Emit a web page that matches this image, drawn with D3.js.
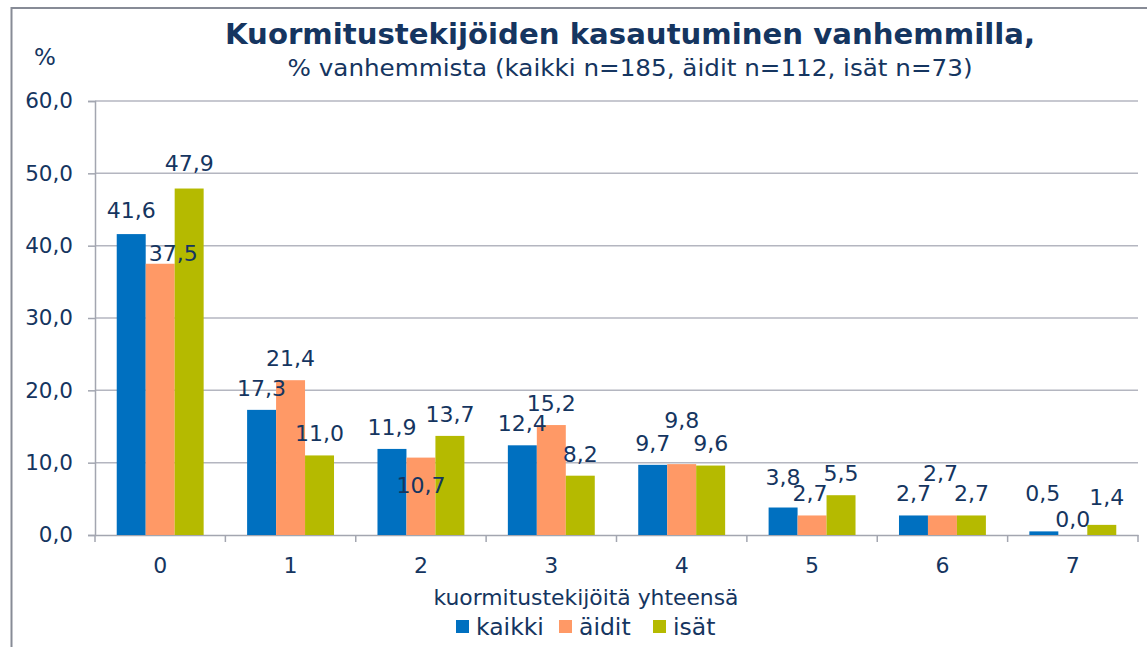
<!DOCTYPE html>
<html>
<head>
<meta charset="utf-8">
<script src="https://cdn.jsdelivr.net/npm/d3@7"></script>
<style>
  body { margin: 0; background: #fff; }
  text { font-family: "DejaVu Sans", Verdana, sans-serif; fill: #153560; }
</style>
</head>
<body>
<div id="wrapper"></div>
<script>
// chart values
const categories = ["0", "1", "2", "3", "4", "5", "6", "7"];
const seriesNames = ["kaikki", "äidit", "isät"];
const kaikki = [41.6, 17.3, 11.9, 12.4, 9.7, 3.8, 2.7, 0.5];
const aidit = [37.5, 21.4, 10.7, 15.2, 9.8, 2.7, 2.7, 0.0];
const isat = [47.9, 11.0, 13.7, 8.2, 9.6, 5.5, 2.7, 1.4];
const yTicks = [0, 10, 20, 30, 40, 50, 60];
const colors = ["#0070c0", "#ff9966", "#b5ba00"];

// hand-placed label nudges as in the original [dx, dy], by category then series
const labelNudge = [
  [[0, -2], [13, 11], [0, -3]],
  [[0, 0], [0, 0], [0, 0]],
  [[0, 0], [0, 49], [0, 0]],
  [[0, 0], [0, 0], [0, 0]],
  [[0, 0], [0, -22], [0, 0]],
  [[0, -8], [-2, 0], [0, 0]],
  [[0, 0], [-2, -20], [0, 0]],
  [[-1, -16], [0, 6], [5, -6]]
];

const allSeries = [kaikki, aidit, isat];
const data = categories.map((c, i) => ({
  cat: c,
  vals: seriesNames.map((s, j) => ({ name: s, value: allSeries[j][i], ci: i, si: j }))
}));

const dims = {
  width: 1147,
  height: 647,
  margin: { top: 101, left: 95, right: 9, bottom: 112 }
};
dims.boundedWidth = dims.width - dims.margin.left - dims.margin.right;
dims.boundedHeight = dims.height - dims.margin.top - dims.margin.bottom;

const svg = d3.select("#wrapper").append("svg")
  .attr("width", dims.width)
  .attr("height", dims.height);

// outer chart frame
svg.append("rect")
  .attr("x", 11.5).attr("y", 8)
  .attr("width", 1160).attr("height", 660)
  .attr("fill", "none")
  .attr("stroke", "#878b96")
  .attr("stroke-width", 2);

const fmt = v => d3.format(".1f")(v).replace(".", ",");

const yScale = d3.scaleLinear()
  .domain([0, 60])
  .range([dims.boundedHeight, 0]);

const x0 = d3.scaleBand()
  .domain(categories)
  .range([0, dims.boundedWidth])
  .paddingInner(0);

const x1 = d3.scaleBand()
  .domain(seriesNames)
  .range([0, x0.bandwidth()])
  .paddingInner(0)
  .paddingOuter(0.75);

const g = svg.append("g")
  .attr("transform", `translate(${dims.margin.left},${dims.margin.top})`);

// gridlines
g.append("g").selectAll("line")
  .data(yTicks.filter(t => t > 0))
  .join("line")
  .attr("x1", 0).attr("x2", dims.boundedWidth)
  .attr("y1", d => yScale(d)).attr("y2", d => yScale(d))
  .attr("stroke", "#b4b6c0")
  .attr("stroke-width", 1.5);

// y axis
const yAxis = g.append("g")
  .call(d3.axisLeft(yScale).tickValues(yTicks).tickSize(7).tickPadding(15).tickFormat(fmt));
yAxis.select(".domain").attr("stroke", "#a3a6b0").attr("stroke-width", 1.5);
yAxis.selectAll(".tick line").attr("stroke", "#a3a6b0").attr("stroke-width", 1.5);
yAxis.selectAll(".tick text")
  .style("font-family", "DejaVu Sans, Verdana, sans-serif")
  .style("font-size", "21.5px")
  .attr("fill", "#153560");

// x axis
const xAxis = g.append("g")
  .attr("transform", `translate(0,${dims.boundedHeight})`)
  .call(d3.axisBottom(x0).tickSize(0).tickPadding(22));
xAxis.select(".domain").attr("stroke", "#a3a6b0").attr("stroke-width", 1.5);
xAxis.selectAll(".tick text")
  .style("font-family", "DejaVu Sans, Verdana, sans-serif")
  .style("font-size", "22px")
  .attr("fill", "#153560");
// category boundary ticks
xAxis.append("g").selectAll("line")
  .data(d3.range(categories.length + 1))
  .join("line")
  .attr("x1", d => d * x0.step()).attr("x2", d => d * x0.step())
  .attr("y1", 0).attr("y2", 7)
  .attr("stroke", "#a3a6b0")
  .attr("stroke-width", 1.5);

// bars
const groups = g.append("g").selectAll("g")
  .data(data)
  .join("g")
  .attr("transform", d => `translate(${x0(d.cat)},0)`);

groups.selectAll("rect")
  .data(d => d.vals)
  .join("rect")
  .attr("x", d => x1(d.name))
  .attr("y", d => yScale(d.value))
  .attr("width", x1.bandwidth())
  .attr("height", d => yScale(0) - yScale(d.value))
  .attr("fill", (d, i) => colors[i]);

// value labels
groups.selectAll("text.val")
  .data(d => d.vals)
  .join("text")
  .attr("class", "val")
  .attr("x", d => x1(d.name) + x1.bandwidth() / 2 + labelNudge[d.ci][d.si][0])
  .attr("y", d => yScale(d.value) - 22 + labelNudge[d.ci][d.si][1])
  .attr("dy", "0.36em")
  .attr("text-anchor", "middle")
  .style("font-size", "22px")
  .text(d => fmt(d.value));

// titles
svg.append("text")
  .attr("x", 630).attr("y", 44)
  .attr("text-anchor", "middle")
  .attr("textLength", 810)
  .attr("lengthAdjust", "spacingAndGlyphs")
  .style("font-size", "28px")
  .style("font-weight", "bold")
  .text("Kuormitustekijöiden kasautuminen vanhemmilla,");

svg.append("text")
  .attr("x", 630).attr("y", 76)
  .attr("text-anchor", "middle")
  .attr("textLength", 685)
  .attr("lengthAdjust", "spacingAndGlyphs")
  .style("font-size", "23px")
  .text("% vanhemmista (kaikki n=185, äidit n=112, isät n=73)");

svg.append("text")
  .attr("x", 45).attr("y", 65)
  .attr("text-anchor", "middle")
  .style("font-size", "23px")
  .text("%");

svg.append("text")
  .attr("x", 586).attr("y", 605)
  .attr("text-anchor", "middle")
  .attr("textLength", 305)
  .attr("lengthAdjust", "spacingAndGlyphs")
  .style("font-size", "21px")
  .text("kuormitustekijöitä yhteensä");

// legend
const legendX = [456, 559, 653];
const legend = svg.append("g").selectAll("g")
  .data(seriesNames)
  .join("g")
  .attr("transform", (d, i) => `translate(${legendX[i]},620)`);
legend.append("rect")
  .attr("width", 13).attr("height", 13)
  .attr("fill", (d, i) => colors[i]);
legend.append("text")
  .attr("x", 20).attr("y", 15)
  .style("font-size", "23.5px")
  .text(d => d);
</script>
</body>
</html>
